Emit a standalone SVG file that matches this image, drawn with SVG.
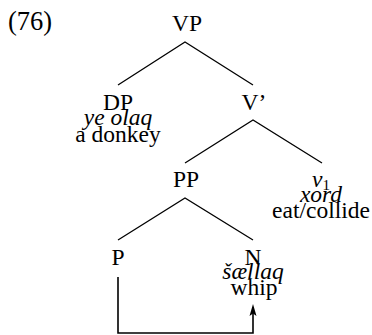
<svg xmlns="http://www.w3.org/2000/svg" width="372" height="335" viewBox="0 0 372 335">
  <style>
    .c { text-anchor: middle; }
    .i { font-style: italic; }
    .edge { stroke: #000; stroke-width: 1.3; fill: none; }
    .move { stroke: #000; stroke-width: 1.6; fill: none; }
  </style>

  <rect width="372" height="335" fill="#fff"/>

  <g id="connectors">
    <path class="edge" d="M118,85 L185,42 L253,85"/>
    <path class="edge" d="M185,163 L253,120 L322,163"/>
    <path class="edge" d="M118,240 L185,198 L253,240"/>
    <!-- movement path from P round to N -->
    <path class="move" d="M118,277 V333 H253 V307"/>
    <path d="M253,304 L249.5,316 L253,313.5 L256.5,316 Z" fill="#000"/>
  </g>

  <g font-family="'Liberation Serif', 'Times New Roman', serif" font-size="23.5" fill="#000">
    <text x="8" y="30" font-size="26.5">(76)</text>

    <g id="node-vp"><text class="c" x="187" y="31">VP</text></g>

    <g id="node-dp">
      <text class="c" x="118" y="110">DP</text>
      <text class="c i" x="118" y="125">ye olaq</text>
      <text class="c" x="118" y="142">a donkey</text>
    </g>

    <g id="node-vbar"><text class="c" x="254" y="110">V’</text></g>

    <g id="node-pp"><text class="c" x="186" y="187">PP</text></g>

    <g id="node-v">
      <text class="c" x="321" y="187"><tspan font-style="italic">v</tspan><tspan font-size="15" dy="3">1</tspan></text>
      <text class="c i" x="321" y="202">xord</text>
      <text class="c" x="321" y="218">eat/collide</text>
    </g>

    <g id="node-p"><text class="c" x="118" y="265">P</text></g>

    <g id="node-n">
      <text class="c" x="253" y="265">N</text>
      <text class="c i" x="253" y="279">šællaq</text>
      <text class="c" x="254" y="295">whip</text>
    </g>
  </g>
</svg>
